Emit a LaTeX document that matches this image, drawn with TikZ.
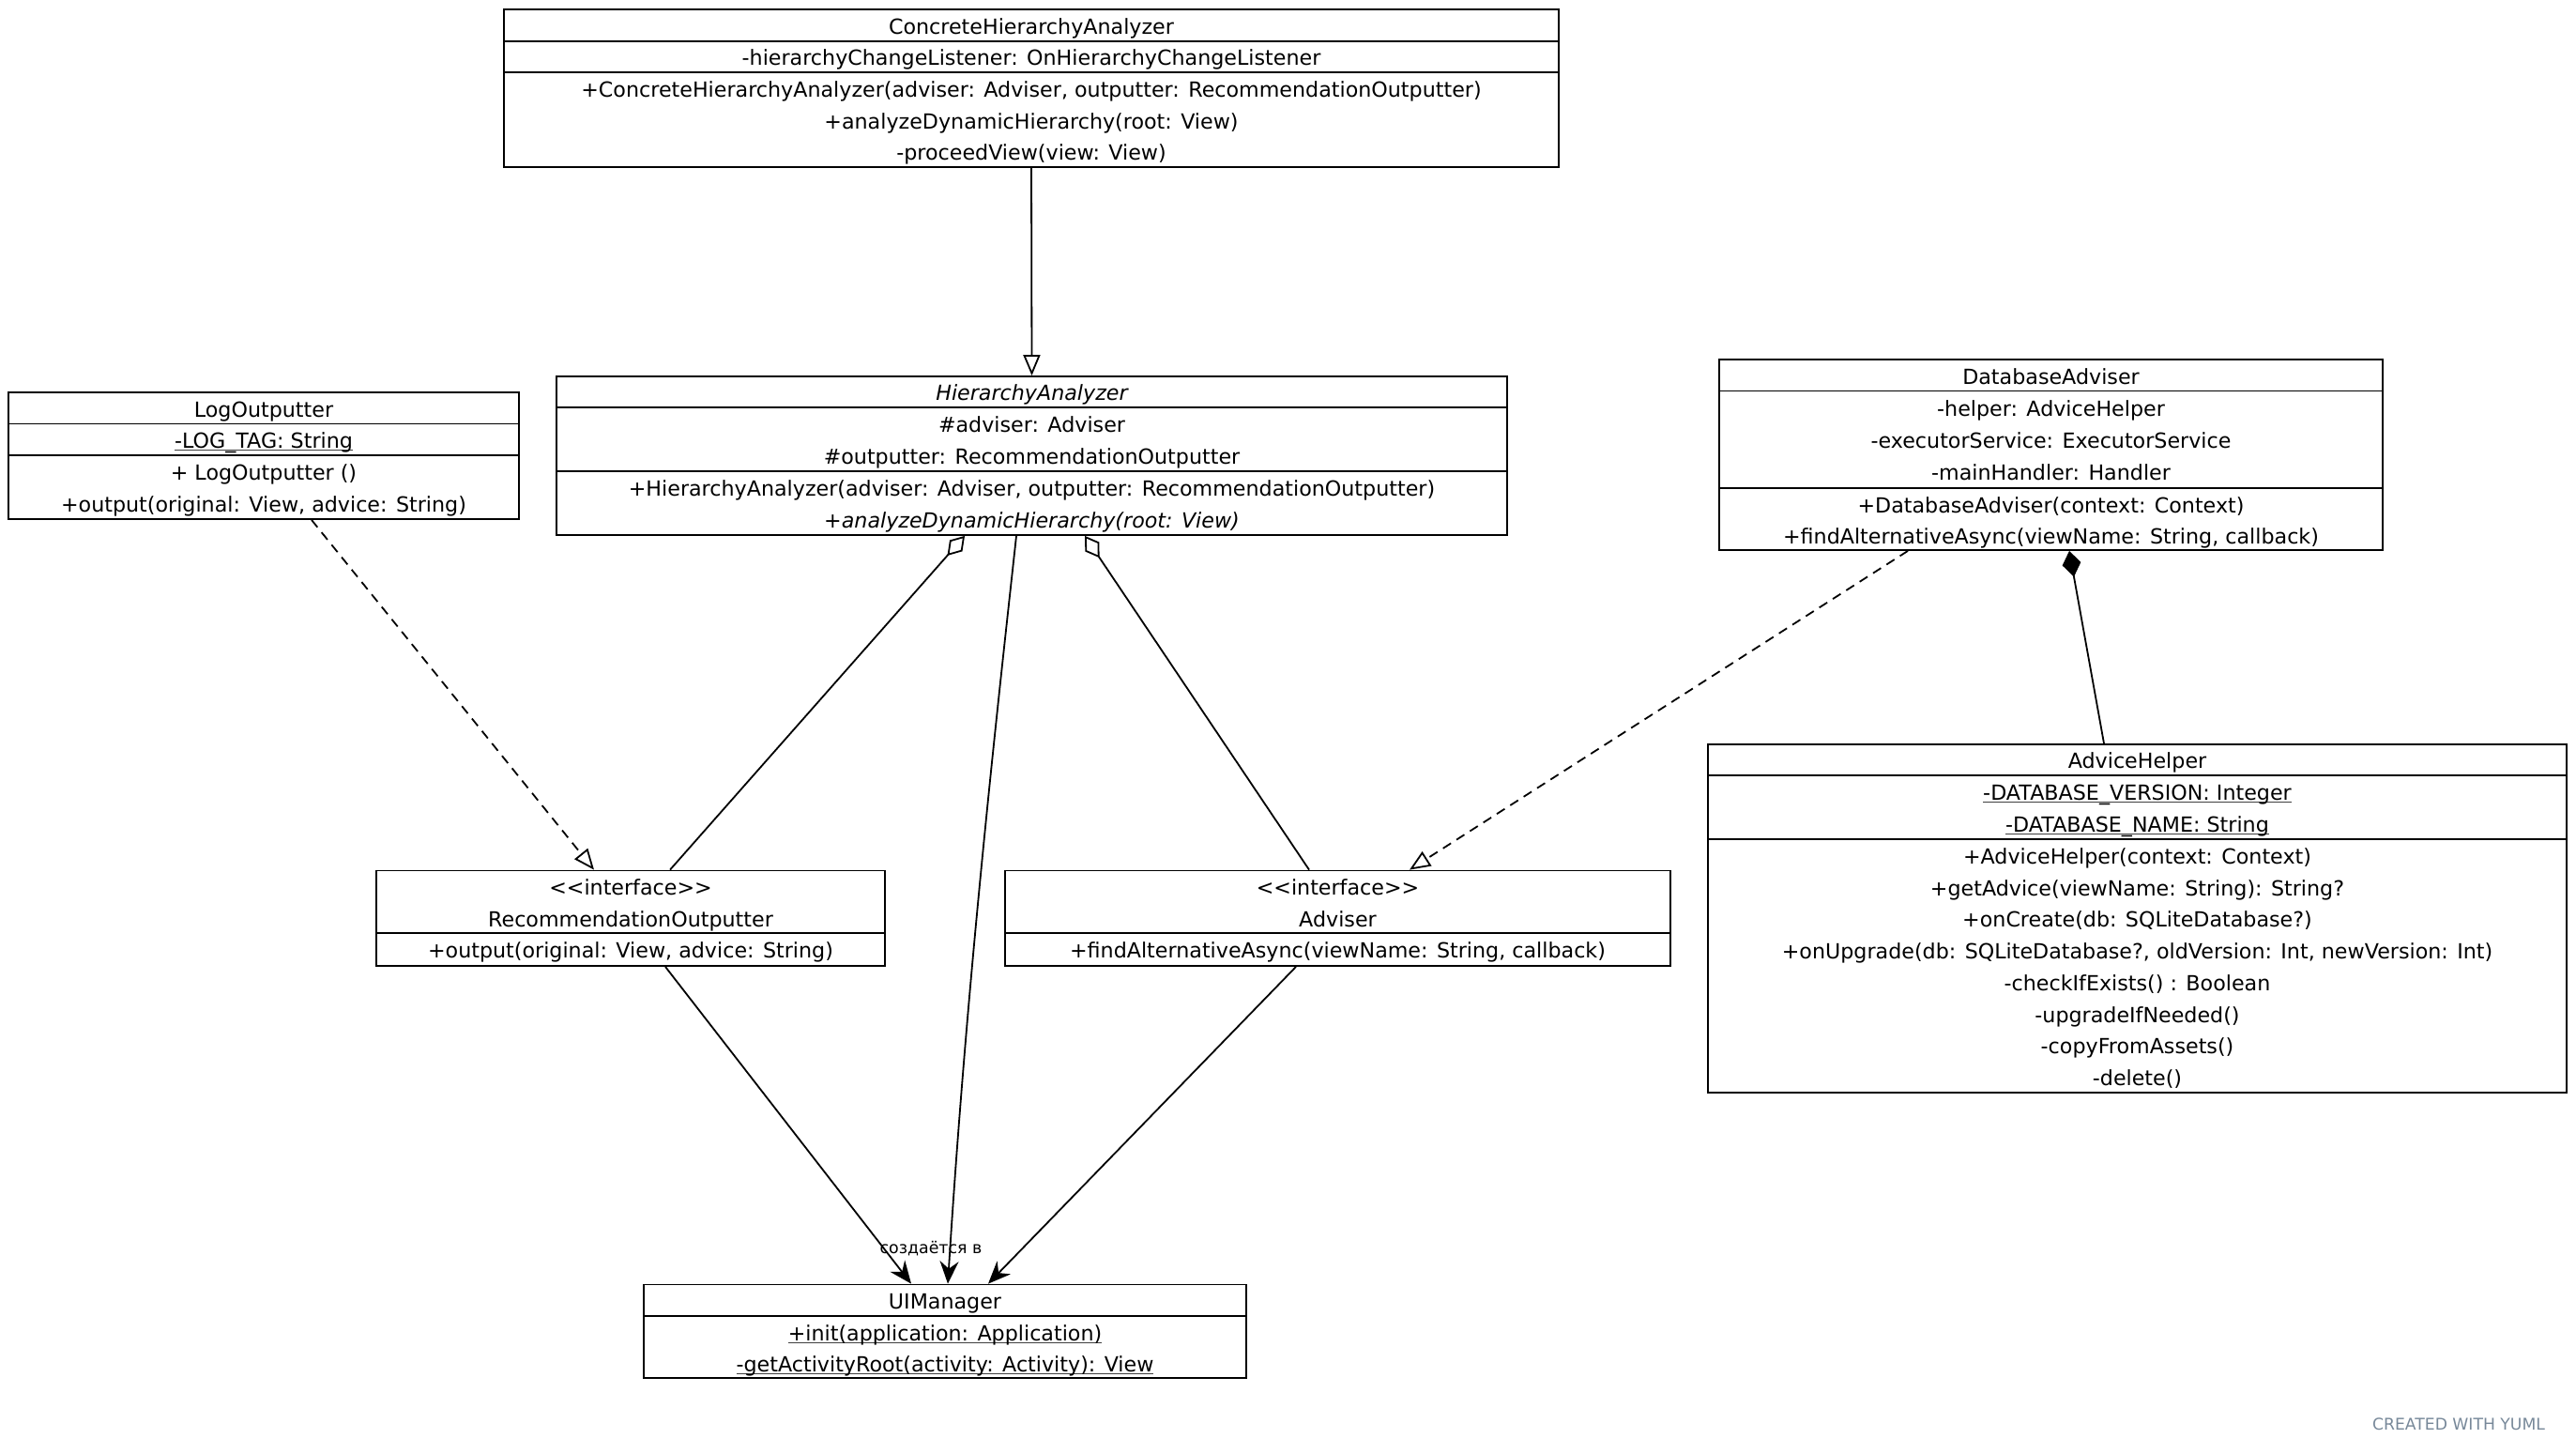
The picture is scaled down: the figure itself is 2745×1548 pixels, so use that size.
\documentclass[tikz,border=0pt]{standalone}
\usepackage{fontspec}
\setmainfont{DejaVu Sans}
\usetikzlibrary{arrows.meta, fit, positioning}
\definecolor{credit}{RGB}{119,136,153}
\newcommand\ulined[1]{\setbox0\hbox{#1}\rlap{\color{black!75}\rule[-1.3pt]{\wd0}{0.6pt}}\box0}

\begin{document}
\begin{tikzpicture}[x=0.5pt, y=-0.5pt, line width=0.9pt,
    font=\fontsize{11.1}{13}\selectfont,
    cls/.style={draw, inner sep=0pt, fit={#1}},
    row/.style={inner sep=0pt, text height=11pt, text depth=1.6pt},
    inherit/.style={-{Triangle[open, length=11pt, width=9pt]}},
    realize/.style={inherit, dash pattern=on 5pt off 3.5pt},
    aggr/.style={{Diamond[open, length=14pt, width=9pt]}-},
    compo/.style={{Diamond[length=14pt, width=10pt]}-},
    uses/.style={-{Stealth[length=12pt, width=10pt, inset=4pt]}}]
    \useasboundingbox (0,0) rectangle (2745,1548);
    % ---- ConcreteHierarchyAnalyzer ----
    \node[cls={(537,10) (1661,178)}] (cha) {};
    \draw (cha.west |- 0,44) -- (cha.east |- 0,44);
    \draw (cha.west |- 0,77) -- (cha.east |- 0,77);
    \node[row] (cha-n) at (1099,27) {ConcreteHierarchyAnalyzer};
    \node[row] (cha-a) at (1099,60.5) {-hierarchyChangeListener: OnHierarchyChangeListener};
    \node[row] (cha-m1) at (1099,94) {+ConcreteHierarchyAnalyzer(adviser: Adviser, outputter: RecommendationOutputter)};
    \node[row] (cha-m2) at (1099,128) {+analyzeDynamicHierarchy(root: View)};
    \node[row] (cha-m3) at (1099,161.5) {-proceedView(view: View)};
    % ---- HierarchyAnalyzer ----
    \node[cls={(593,401) (1606,570)}] (ha) {};
    \draw (ha.west |- 0,434) -- (ha.east |- 0,434);
    \draw (ha.west |- 0,502) -- (ha.east |- 0,502);
    \node[row] (ha-n) at (1099.5,417.5) {\itshape HierarchyAnalyzer};
    \node[row] (ha-a1) at (1099.5,451) {\#adviser: Adviser};
    \node[row] (ha-a2) at (1099.5,485) {\#outputter: RecommendationOutputter};
    \node[row] (ha-m1) at (1099.5,519) {+HierarchyAnalyzer(adviser: Adviser, outputter: RecommendationOutputter)};
    \node[row] (ha-m2) at (1099.5,553) {\itshape +analyzeDynamicHierarchy(root: View)};
    % ---- LogOutputter ----
    \node[cls={(9,418) (553,553)}] (lo) {};
    \draw (lo.west |- 0,451.5) -- (lo.east |- 0,451.5);
    \draw (lo.west |- 0,485) -- (lo.east |- 0,485);
    \node[row] (lo-n) at (281,435) {LogOutputter};
    \node[row] (lo-a) at (281,468) {\ulined{-LOG\_TAG: String}};
    \node[row] (lo-m1) at (281,502) {+ LogOutputter ()};
    \node[row] (lo-m2) at (281,536) {+output(original: View, advice: String)};
    % ---- DatabaseAdviser ----
    \node[cls={(1832,383) (2539,586)}] (da) {};
    \draw (da.west |- 0,416.5) -- (da.east |- 0,416.5);
    \draw (da.west |- 0,520) -- (da.east |- 0,520);
    \node[row] (da-n) at (2185.5,400) {DatabaseAdviser};
    \node[row] (da-a1) at (2185.5,434) {-helper: AdviceHelper};
    \node[row] (da-a2) at (2185.5,468) {-executorService: ExecutorService};
    \node[row] (da-a3) at (2185.5,502) {-mainHandler: Handler};
    \node[row] (da-m1) at (2185.5,537) {+DatabaseAdviser(context: Context)};
    \node[row] (da-m2) at (2185.5,570) {+findAlternativeAsync(viewName: String, callback)};
    % ---- AdviceHelper ----
    \node[cls={(1820,793) (2735,1164)}] (ah) {};
    \draw (ah.west |- 0,826) -- (ah.east |- 0,826);
    \draw (ah.west |- 0,894) -- (ah.east |- 0,894);
    \node[row] (ah-n) at (2277.5,809.5) {AdviceHelper};
    \node[row] (ah-a1) at (2277.5,843) {\ulined{-DATABASE\_VERSION: Integer}};
    \node[row] (ah-a2) at (2277.5,877) {\ulined{-DATABASE\_NAME: String}};
    \foreach \t [count=\i] in {{+AdviceHelper(context: Context)},
        {+getAdvice(viewName: String): String?},
        {+onCreate(db: SQLiteDatabase?)},
        {+onUpgrade(db: SQLiteDatabase?, oldVersion: Int, newVersion: Int)},
        {-checkIfExists() : Boolean}, {-upgradeIfNeeded()},
        {-copyFromAssets()}, {-delete()}} {
        \node[row] (ah-m\i) at (2277.5,{894+33.75*(\i-0.5)}) {\t};
    }
    % ---- RecommendationOutputter ----
    \node[cls={(401,927.5) (943,1029)}] (ro) {};
    \draw (ro.west |- 0,994) -- (ro.east |- 0,994);
    \node[row] (ro-s) at (672,944) {<{}<interface>{}>};
    \node[row] (ro-n) at (672,978) {RecommendationOutputter};
    \node[row] (ro-m) at (672,1011.5) {+output(original: View, advice: String)};
    % ---- Adviser ----
    \node[cls={(1071,927.5) (1780,1029)}] (ad) {};
    \draw (ad.west |- 0,994) -- (ad.east |- 0,994);
    \node[row] (ad-s) at (1425.5,944) {<{}<interface>{}>};
    \node[row] (ad-n) at (1425.5,978) {Adviser};
    \node[row] (ad-m) at (1425.5,1011.5) {+findAlternativeAsync(viewName: String, callback)};
    % ---- UIManager ----
    \node[cls={(686,1368.5) (1328,1468)}] (ui) {};
    \draw (ui.west |- 0,1402) -- (ui.east |- 0,1402);
    \node[row] (ui-n) at (1007,1385) {UIManager};
    \node[row] (ui-m1) at (1007,1419) {\ulined{+init(application: Application)}};
    \node[row] (ui-m2) at (1007,1452) {\ulined{-getActivityRoot(activity: Activity): View}};
    % ---- связи ----
    \draw[inherit] (cha.south) -- (ha.north);
    \draw[realize] (332,0 |- lo.south) -- (633,0 |- ro.north);
    \draw[aggr] (1028,0 |- ha.south) -- (714,0 |- ro.north);
    \draw[aggr] (1156,0 |- ha.south) -- (1395,0 |- ad.north);
    \draw[uses] (1083,0 |- ha.south) .. controls (1060,780) and (1030,1050) .. (1010,0 |- ui.north);
    \draw[realize] (2033,0 |- da.south) -- (1502,0 |- ad.north);
    \draw[compo] (2205,0 |- da.south) -- (2242,0 |- ah.north);
    \draw[uses] (709,0 |- ro.south) -- (971,0 |- ui.north);
    \draw[uses] (1381,0 |- ad.south) -- (1053,0 |- ui.north);
    \node[font=\fontsize{8.7}{10}\selectfont] (lbl) at (992,1330) {создаётся в};
    \node[font=\fontsize{8.6}{10}\selectfont, text=credit] (yuml) at (2620,1517) {CREATED WITH YUML};
\end{tikzpicture}
\end{document}
